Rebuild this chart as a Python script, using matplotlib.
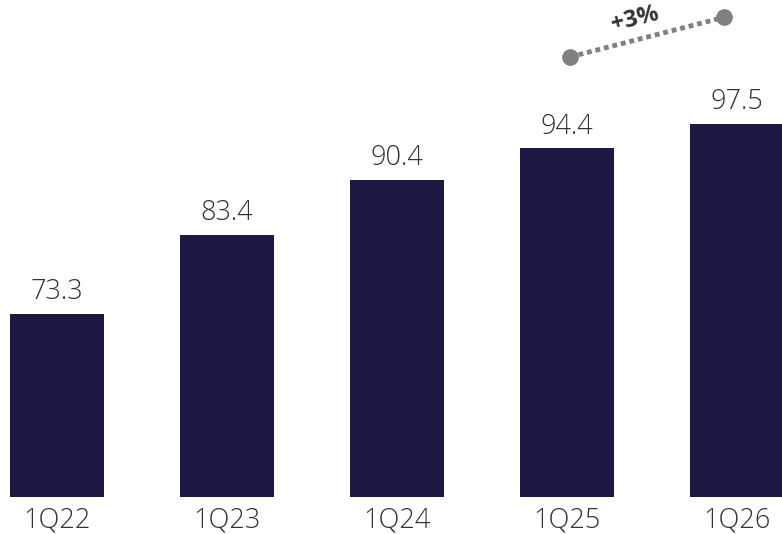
import matplotlib
matplotlib.use("Agg")
import matplotlib.pyplot as plt

categories = ["1Q22", "1Q23", "1Q24", "1Q25", "1Q26"]
values = [73.3, 83.4, 90.4, 94.4, 97.5]
labels = ["73.3", "83.4", "90.4", "94.4", "97.5"]
growth_label = "+3%"

BAR = "#1c1a45"
TXT = "#333333"
GRAY = "#808080"
FONT = ["Open Sans", "DejaVu Sans"]

fig = plt.figure(figsize=(7.82, 5.34), dpi=100)
ax = fig.add_axes([0, 37 / 534, 1, 497 / 534])
x = list(range(len(categories)))
ax.bar(x, values, width=0.553, color=BAR, zorder=2)
ax.set_xlim(-0.335, 4.265)
ax.set_ylim(50, 113.3)

for xi, v, lab in zip(x, values, labels):
    ax.annotate(lab, (xi, v), xytext=(0, 5.5), textcoords="offset points",
                ha="center", va="bottom", fontsize=19.5, color=TXT,
                family=FONT, fontweight="light")

ax.set_xticks(x)
ax.set_xticklabels(categories, fontsize=19.5, color=TXT, family=FONT, fontweight="light")
ax.tick_params(axis="x", length=0, pad=7)
ax.set_yticks([])
for s in ax.spines.values():
    s.set_visible(False)

# growth annotation between last two bars
x0, y0 = 3.018, 106.05
x1, y1 = 3.924, 111.1
ax.plot([x0, x1], [y0, y1], linestyle=(0, (1, 0.8)), color=GRAY, lw=3.5,
        clip_on=False, zorder=3)
ax.plot([x0, x1], [y0, y1], "o", color=GRAY, ms=11, clip_on=False, zorder=4)
ax.text((x0 + x1) / 2 - 0.07, 110.8, growth_label, ha="center", va="center",
        rotation=14, fontsize=17, fontweight="bold", color=TXT, family=FONT)

fig.savefig("out.png", dpi=100)
